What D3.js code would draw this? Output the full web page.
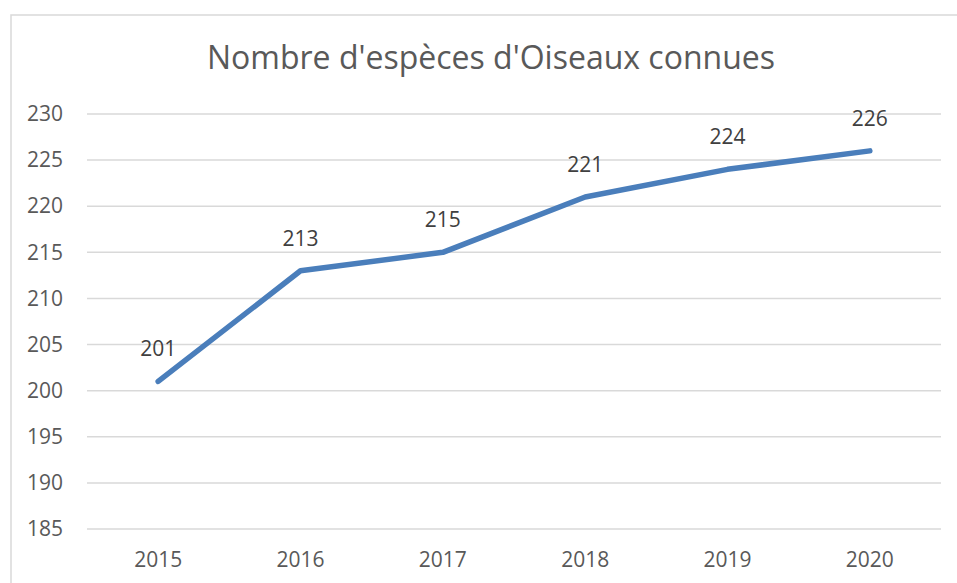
<!DOCTYPE html>
<html>
<head>
<meta charset="utf-8">
<script src="https://cdn.jsdelivr.net/npm/d3@7"></script>
<style>
  body { margin: 0; background: #fff; }
  text { font-family: "Open Sans", "Noto Sans", sans-serif; fill: #595959; }
</style>
</head>
<body>
<svg id="svg" width="957" height="583"></svg>
<script>
const years = ['2015', '2016', '2017', '2018', '2019', '2020'];
const species = [201, 213, 215, 221, 224, 226];
const yTicks = [185, 190, 195, 200, 205, 210, 215, 220, 225, 230];
const title = "Nombre d'espèces d'Oiseaux connues";

const svg = d3.select('#svg');

// chart frame (only top/left visible in the crop)
svg.append('rect')
    .attr('x', 11)
    .attr('y', 15)
    .attr('width', 1000)
    .attr('height', 600)
    .style('fill', 'none')
    .style('stroke', '#d9d9d9')
    .style('stroke-width', 1.5);

const x = d3.scaleBand()
    .domain(years)
    .range([87, 941]);

const y = d3.scaleLinear()
    .domain([185, 230])
    .range([529, 114]);

// gridlines
svg.append('g')
    .selectAll('line')
    .data(yTicks)
    .join('line')
    .attr('x1', 87)
    .attr('x2', 941)
    .attr('y1', d => y(d))
    .attr('y2', d => y(d))
    .style('stroke', '#d9d9d9')
    .style('stroke-width', 1.5);

// y axis labels
const yAxis = svg.append('g')
    .attr('transform', 'translate(63,0)')
    .call(d3.axisLeft(y).tickValues(yTicks).tickSize(0).tickPadding(0));
yAxis.select('.domain').remove();
yAxis.selectAll('text')
    .attr('fill', null)
    .style('font-size', '21px');

// x axis labels
const xAxis = svg.append('g')
    .attr('transform', 'translate(0,545)')
    .call(d3.axisBottom(x).tickSize(0).tickPadding(0));
xAxis.select('.domain').remove();
xAxis.selectAll('text')
    .attr('fill', null)
    .attr('dy', null)
    .attr('y', 22)
    .style('font-size', '21px');

const cx = d => x(d) + x.bandwidth() / 2;

// line
const line = d3.line()
    .x((d, i) => cx(years[i]))
    .y(d => y(d));

svg.append('path')
    .datum(species)
    .attr('d', line)
    .style('fill', 'none')
    .style('stroke', '#4a7ebb')
    .style('stroke-width', 5.5)
    .style('stroke-linecap', 'round')
    .style('stroke-linejoin', 'round');

// data labels
svg.append('g')
    .selectAll('text')
    .data(species)
    .join('text')
    .attr('x', (d, i) => cx(years[i]))
    .attr('y', d => y(d) - 25)
    .attr('text-anchor', 'middle')
    .style('font-size', '21px')
    .style('fill', '#404040')
    .text(d => d);

// title
svg.append('text')
    .attr('x', 491)
    .attr('y', 69)
    .attr('text-anchor', 'middle')
    .style('font-size', '32px')
    .text(title);
</script>
</body>
</html>
